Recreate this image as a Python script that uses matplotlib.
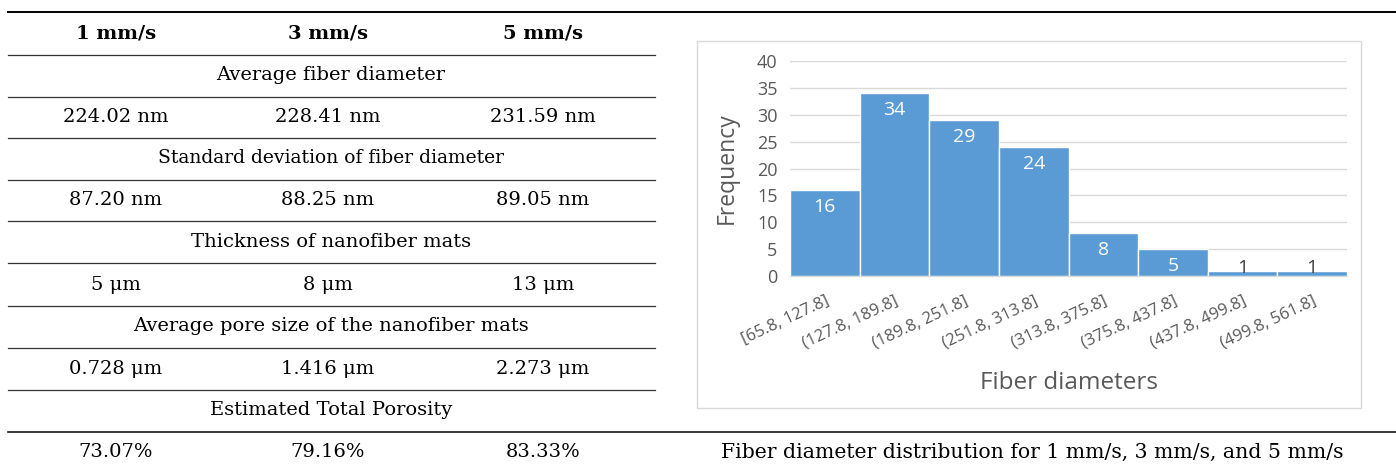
import matplotlib.pyplot as plt
from matplotlib.patches import Rectangle

# table data
speeds = ['1 mm/s', '3 mm/s', '5 mm/s']
sections = ['Average fiber diameter', 'Standard deviation of fiber diameter',
            'Thickness of nanofiber mats', 'Average pore size of the nanofiber mats',
            'Estimated Total Porosity']
avg_diam = ['224.02 nm', '228.41 nm', '231.59 nm']
std_diam = ['87.20 nm', '88.25 nm', '89.05 nm']
thickness = ['5 μm', '8 μm', '13 μm']
pore_size = ['0.728 μm', '1.416 μm', '2.273 μm']
porosity = ['73.07%', '79.16%', '83.33%']
caption = 'Fiber diameter distribution for 1 mm/s, 3 mm/s, and 5 mm/s'

# histogram data
bins = ['[65.8, 127.8]', '(127.8, 189.8]', '(189.8, 251.8]', '(251.8, 313.8]',
        '(313.8, 375.8]', '(375.8, 437.8]', '(437.8, 499.8]', '(499.8, 561.8]']
counts = [16, 34, 29, 24, 8, 5, 1, 1]

W, H = 1396, 468
fig = plt.figure(figsize=(W / 100, H / 100), dpi=100)
bg = fig.add_axes([0, 0, 1, 1])
bg.set_xlim(0, W)
bg.set_ylim(H, 0)
bg.axis('off')

serif = 'DejaVu Serif'
fs = 14
cols = [116, 328, 543]
mid = 331

# rules
bg.plot([8, W], [12, 12], color='black', lw=1.4)
for y in [55, 97, 138, 180, 221, 263, 306, 348, 390]:
    bg.plot([8, 655], [y, y], color='#333333', lw=0.9)
bg.plot([8, W], [432, 432], color='black', lw=1.1)

for x, s in zip(cols, speeds):
    bg.text(x, 33, s, ha='center', va='center', family=serif, fontsize=fs, fontweight='bold')

rows = [avg_diam, std_diam, thickness, pore_size, porosity]
sec_y = [75, 158, 242, 326, 410]
val_y = [117, 200, 285, 369, 452]
for sec, sy, vals, vy in zip(sections, sec_y, rows, val_y):
    bg.text(mid, sy, sec, ha='center', va='center', family=serif,
            fontsize=13.5 if sec.startswith('Standard') else fs)
    for x, v in zip(cols, vals):
        bg.text(x, vy, v, ha='center', va='center', family=serif, fontsize=fs)

bg.text(1032, 452, caption, ha='center', va='center', family=serif, fontsize=14.7)

# chart frame
bg.add_patch(Rectangle((697, 41), 664, 367, fill=False, edgecolor='#d9d9d9', lw=1))

# histogram
ax = fig.add_axes([790 / W, 1 - 276 / H, (1347 - 790) / W, (276 - 61) / H])
x = range(len(counts))
ax.bar(x, counts, width=1, color='#5b9bd5', edgecolor='white', lw=1, zorder=2)
ax.set_xlim(-0.5, len(counts) - 0.5)
ax.set_ylim(0, 40)
ax.set_yticks(range(0, 41, 5))
ax.yaxis.grid(True, color='#d9d9d9', lw=1, zorder=0)
ax.set_axisbelow(True)
for sp in ['top', 'right', 'left']:
    ax.spines[sp].set_visible(False)
ax.spines['bottom'].set_color('#d9d9d9')
ax.tick_params(length=0, colors='#595959')
sans = 'Open Sans'
ax.set_xticks(list(x))
ax.set_xticklabels(bins, rotation=25, ha='right', rotation_mode='anchor',
                   family=sans, fontsize=12, color='#595959')
for lab in ax.get_yticklabels():
    lab.set_family(sans)
    lab.set_fontsize(13)
ax.tick_params(axis='y', pad=9)
ax.tick_params(axis='x', pad=12)

for i, c in enumerate(counts):
    if c >= 3:
        ax.annotate(str(c), (i, c), xytext=(0, -12), textcoords='offset points',
                    ha='center', va='center', color='white', family=sans, fontsize=14)
    else:
        ax.text(i, 1.5, str(c), ha='center', va='center', color='#404040',
                family=sans, fontsize=14)

ax.set_ylabel('Frequency', family=sans, fontsize=16.5, color='#595959', labelpad=13)
ax.set_xlabel('Fiber diameters', family=sans, fontsize=17.5, color='#595959', labelpad=14)

fig.savefig('out.png', dpi=100)
